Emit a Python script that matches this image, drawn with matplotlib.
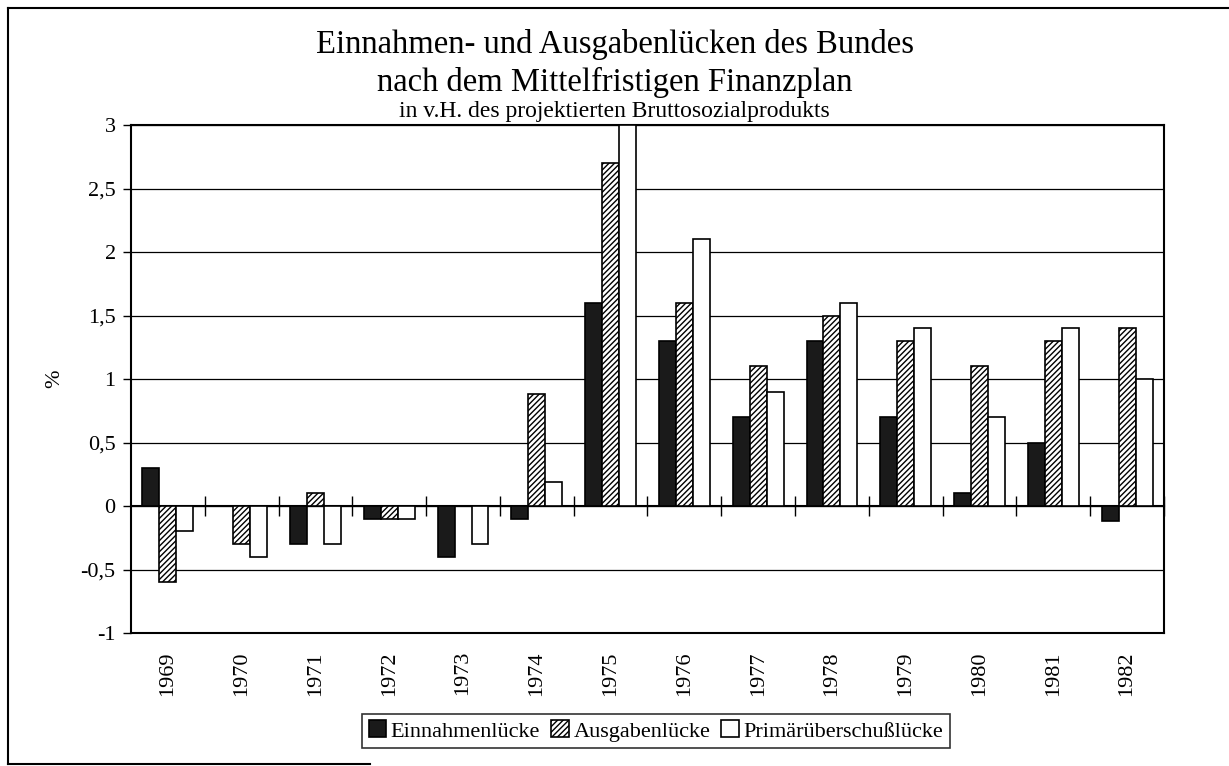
import matplotlib
matplotlib.use("Agg")
import matplotlib.pyplot as plt
import numpy as np
from matplotlib.lines import Line2D
from matplotlib.ticker import FuncFormatter

plt.rcParams['font.family'] = ['Liberation Serif', 'DejaVu Serif']
plt.rcParams['hatch.linewidth'] = 1.0

years = ['1969', '1970', '1971', '1972', '1973', '1974', '1975',
         '1976', '1977', '1978', '1979', '1980', '1981', '1982']
einnahmen = [0.3, 0.0, -0.3, -0.1, -0.4, -0.1, 1.6, 1.3, 0.7, 1.3, 0.7, 0.1, 0.5, -0.12]
ausgaben = [-0.6, -0.3, 0.1, -0.1, 0.0, 0.88, 2.7, 1.6, 1.1, 1.5, 1.3, 1.1, 1.3, 1.4]
primaer = [-0.2, -0.4, -0.3, -0.1, -0.3, 0.19, 3.0, 2.1, 0.9, 1.6, 1.4, 0.7, 1.4, 1.0]
series_names = ['Einnahmenlücke', 'Ausgabenlücke', 'Primärüberschußlücke']

fig = plt.figure(figsize=(12.29, 7.66), dpi=100)
ax = fig.add_axes([131/1229, 1-633/766, (1164-131)/1229, (633-125)/766])

x = np.arange(len(years))
w = 0.23
ax.bar(x - w, einnahmen, w, color='#1a1a1a', edgecolor='black', linewidth=1.2, zorder=3, label=series_names[0])
ax.bar(x, ausgaben, w, color='white', edgecolor='black', hatch='//////', linewidth=1.2, zorder=3, label=series_names[1])
ax.bar(x + w, primaer, w, color='white', edgecolor='black', linewidth=1.2, zorder=3, label=series_names[2])

ax.set_xlim(-0.5, len(years) - 0.5)
ax.set_ylim(-1, 3)
ax.set_yticks(np.arange(-1, 3.01, 0.5))
ax.yaxis.set_major_formatter(FuncFormatter(lambda v, p: ('%g' % v).replace('.', ',')))
ax.yaxis.grid(True, color='black', linewidth=0.9, zorder=0)
ax.set_axisbelow(True)
ax.tick_params(axis='y', direction='out', length=6, width=1, labelsize=16, pad=5)
ax.set_xticks(x)
ax.set_xticklabels(years, rotation=90, fontsize=16)
ax.tick_params(axis='x', length=0, pad=13)
for s in ax.spines.values():
    s.set_linewidth(1.5)
    s.set_color('black')

# zero line with boundary ticks
sec = ax.secondary_xaxis(0.25)
sec.set_xticks(np.arange(-0.5, len(years), 1.0)[1:])
sec.tick_params(direction='inout', length=14, width=1, labelbottom=False, labeltop=False)
sec.spines['bottom'].set_linewidth(1.5)

ax.set_ylabel('%', fontsize=16)
ax.yaxis.set_label_coords((64-131)/1033, 0.5)

fig.text(0.5, 1-45/766, 'Einnahmen- und Ausgabenlücken des Bundes', ha='center', va='center', fontsize=23.5)
fig.text(0.5, 1-82/766, 'nach dem Mittelfristigen Finanzplan', ha='center', va='center', fontsize=23.5)
fig.text(0.5, 1-112/766, 'in v.H. des projektierten Bruttosozialprodukts', ha='center', va='center', fontsize=17)

leg = fig.legend(loc='center', bbox_to_anchor=(656/1229, 1-731/766), ncol=3, fontsize=16,
                 frameon=True, fancybox=False, edgecolor='black', handlelength=0.8,
                 handleheight=0.8, handletextpad=0.2, columnspacing=0.5, borderpad=0.3,
                 borderaxespad=0)
leg.get_frame().set_linewidth(1.2)

# outer figure border
fig.add_artist(Line2D([8/1229, 8/1229], [1-8/766, 1-764/766], color='black', lw=1.5, transform=fig.transFigure))
fig.add_artist(Line2D([8/1229, 1.0], [1-8/766, 1-8/766], color='black', lw=1.5, transform=fig.transFigure))
fig.add_artist(Line2D([8/1229, 370/1229], [1-764/766, 1-764/766], color='black', lw=1.5, transform=fig.transFigure))

fig.savefig('out.png', dpi=100)
